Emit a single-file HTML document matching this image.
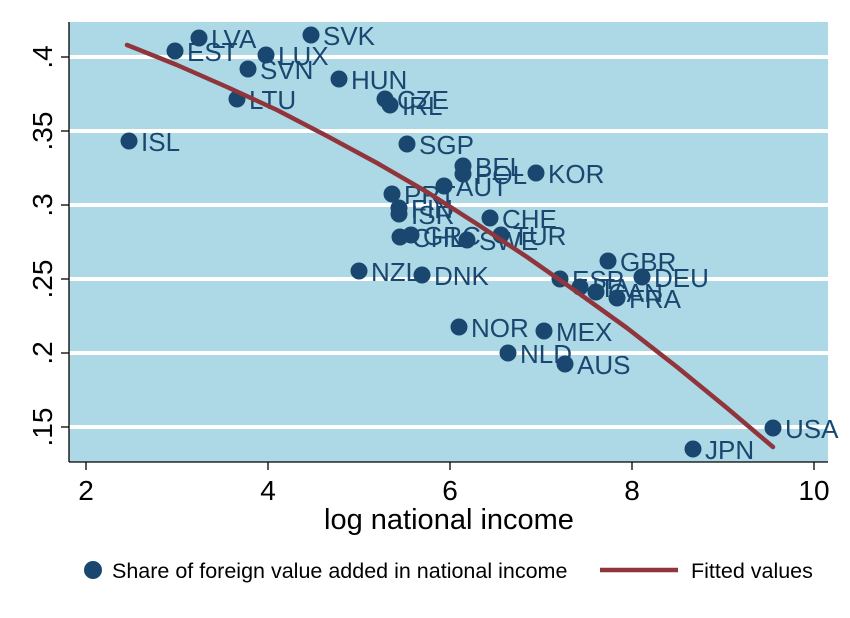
<!DOCTYPE html>
<html><head><meta charset="utf-8"><style>body{margin:0;background:#fff}svg{display:block}</style></head>
<body>
<svg width="850" height="618" xmlns="http://www.w3.org/2000/svg" font-family="Liberation Sans, Arial, sans-serif">
<rect width="850" height="618" fill="#fff"/>
<rect x="69" y="22" width="759" height="440" fill="#add8e6"/>
<g stroke="#fff" stroke-width="4">
<line x1="69" y1="57" x2="828" y2="57"/>
<line x1="69" y1="131" x2="828" y2="131"/>
<line x1="69" y1="205" x2="828" y2="205"/>
<line x1="69" y1="279" x2="828" y2="279"/>
<line x1="69" y1="353" x2="828" y2="353"/>
<line x1="69" y1="427" x2="828" y2="427"/>
</g>
<g stroke="#000" stroke-width="1.3">
<line x1="69" y1="22" x2="69" y2="462"/>
<line x1="69" y1="462" x2="828" y2="462"/>
<line x1="61" y1="57" x2="69" y2="57"/><line x1="61" y1="131" x2="69" y2="131"/><line x1="61" y1="205" x2="69" y2="205"/><line x1="61" y1="279" x2="69" y2="279"/><line x1="61" y1="353" x2="69" y2="353"/><line x1="61" y1="427" x2="69" y2="427"/>
<line x1="86" y1="462" x2="86" y2="470"/><line x1="268" y1="462" x2="268" y2="470"/><line x1="450" y1="462" x2="450" y2="470"/><line x1="632" y1="462" x2="632" y2="470"/><line x1="814" y1="462" x2="814" y2="470"/>
</g>
<g font-size="28" text-anchor="middle" fill="#000">
<text x="86" y="500">2</text><text x="268" y="500">4</text><text x="450" y="500">6</text><text x="632" y="500">8</text><text x="814" y="500">10</text>
<text x="449" y="529" font-size="29">log national income</text>
<text transform="translate(52,57) rotate(-90)">.4</text>
<text transform="translate(52,131) rotate(-90)">.35</text>
<text transform="translate(52,205) rotate(-90)">.3</text>
<text transform="translate(52,279) rotate(-90)">.25</text>
<text transform="translate(52,353) rotate(-90)">.2</text>
<text transform="translate(52,427) rotate(-90)">.15</text>
</g>
<g fill="#1a476f">
<circle cx="199" cy="38" r="8.5"/><circle cx="175" cy="51" r="8.5"/><circle cx="266" cy="55" r="8.5"/><circle cx="311" cy="35" r="8.5"/>
<circle cx="248" cy="69" r="8.5"/><circle cx="339" cy="79" r="8.5"/><circle cx="237" cy="99" r="8.5"/><circle cx="385" cy="99" r="8.5"/>
<circle cx="390" cy="105" r="8.5"/><circle cx="129" cy="141" r="8.5"/><circle cx="407" cy="144" r="8.5"/><circle cx="463" cy="166" r="8.5"/>
<circle cx="463" cy="174" r="8.5"/><circle cx="536" cy="173" r="8.5"/><circle cx="444" cy="186" r="8.5"/><circle cx="392" cy="194" r="8.5"/>
<circle cx="399" cy="208" r="8.5"/><circle cx="399" cy="214" r="8.5"/><circle cx="490" cy="218" r="8.5"/><circle cx="400" cy="237" r="8.5"/>
<circle cx="411" cy="235" r="8.5"/><circle cx="467" cy="240" r="8.5"/><circle cx="501" cy="235" r="8.5"/><circle cx="359" cy="271" r="8.5"/>
<circle cx="422" cy="275" r="8.5"/><circle cx="608" cy="261" r="8.5"/><circle cx="560" cy="279" r="8.5"/><circle cx="580" cy="287" r="8.5"/>
<circle cx="596" cy="292" r="8.5"/><circle cx="642" cy="277" r="8.5"/><circle cx="617" cy="298" r="8.5"/><circle cx="459" cy="327" r="8.5"/>
<circle cx="544" cy="331" r="8.5"/><circle cx="508" cy="353" r="8.5"/><circle cx="565" cy="364" r="8.5"/><circle cx="773" cy="428" r="8.5"/>
<circle cx="693" cy="449" r="8.5"/>
</g>
<g fill="#1a476f" font-size="26" dominant-baseline="central">
<text x="211" y="39">LVA</text><text x="187" y="52">EST</text><text x="278" y="56">LUX</text><text x="323" y="36">SVK</text>
<text x="260" y="70">SVN</text><text x="351" y="80">HUN</text><text x="249" y="100">LTU</text><text x="397" y="100">CZE</text>
<text x="402" y="106">IRL</text><text x="141" y="142">ISL</text><text x="419" y="145">SGP</text><text x="475" y="167">BEL</text>
<text x="475" y="175">POL</text><text x="548" y="174">KOR</text><text x="456" y="187">AUT</text><text x="404" y="195">PRT</text>
<text x="411" y="209">FIN</text><text x="411" y="215">ISR</text><text x="502" y="219">CHE</text><text x="412" y="238">CHL</text>
<text x="423" y="236">GRC</text><text x="479" y="241">SWE</text><text x="513" y="236">TUR</text><text x="371" y="272">NZL</text>
<text x="434" y="276">DNK</text><text x="620" y="262">GBR</text><text x="572" y="280">ESP</text><text x="592" y="288">ITA</text>
<text x="608" y="293">CAN</text><text x="654" y="278">DEU</text><text x="629" y="299">FRA</text><text x="471" y="328">NOR</text>
<text x="556" y="332">MEX</text><text x="520" y="354">NLD</text><text x="577" y="365">AUS</text><text x="785" y="429">USA</text>
<text x="705" y="450">JPN</text>
</g>
<polyline fill="none" stroke="#90353b" stroke-width="4.5" stroke-linecap="round" stroke-linejoin="round"
points="127,45 177,65 227,87 277,110 327,136 377,163 427,192 477,224 527,257 577,292 627,328 677,367 727,408 773,447"/>
<circle cx="93" cy="570" r="9" fill="#1a476f"/>
<text x="112" y="578" font-size="21.5" fill="#000">Share of foreign value added in national income</text>
<line x1="600" y1="570" x2="678" y2="570" stroke="#90353b" stroke-width="4.5"/>
<text x="691" y="578" font-size="21.5" fill="#000">Fitted values</text>
</svg>
</body></html>
